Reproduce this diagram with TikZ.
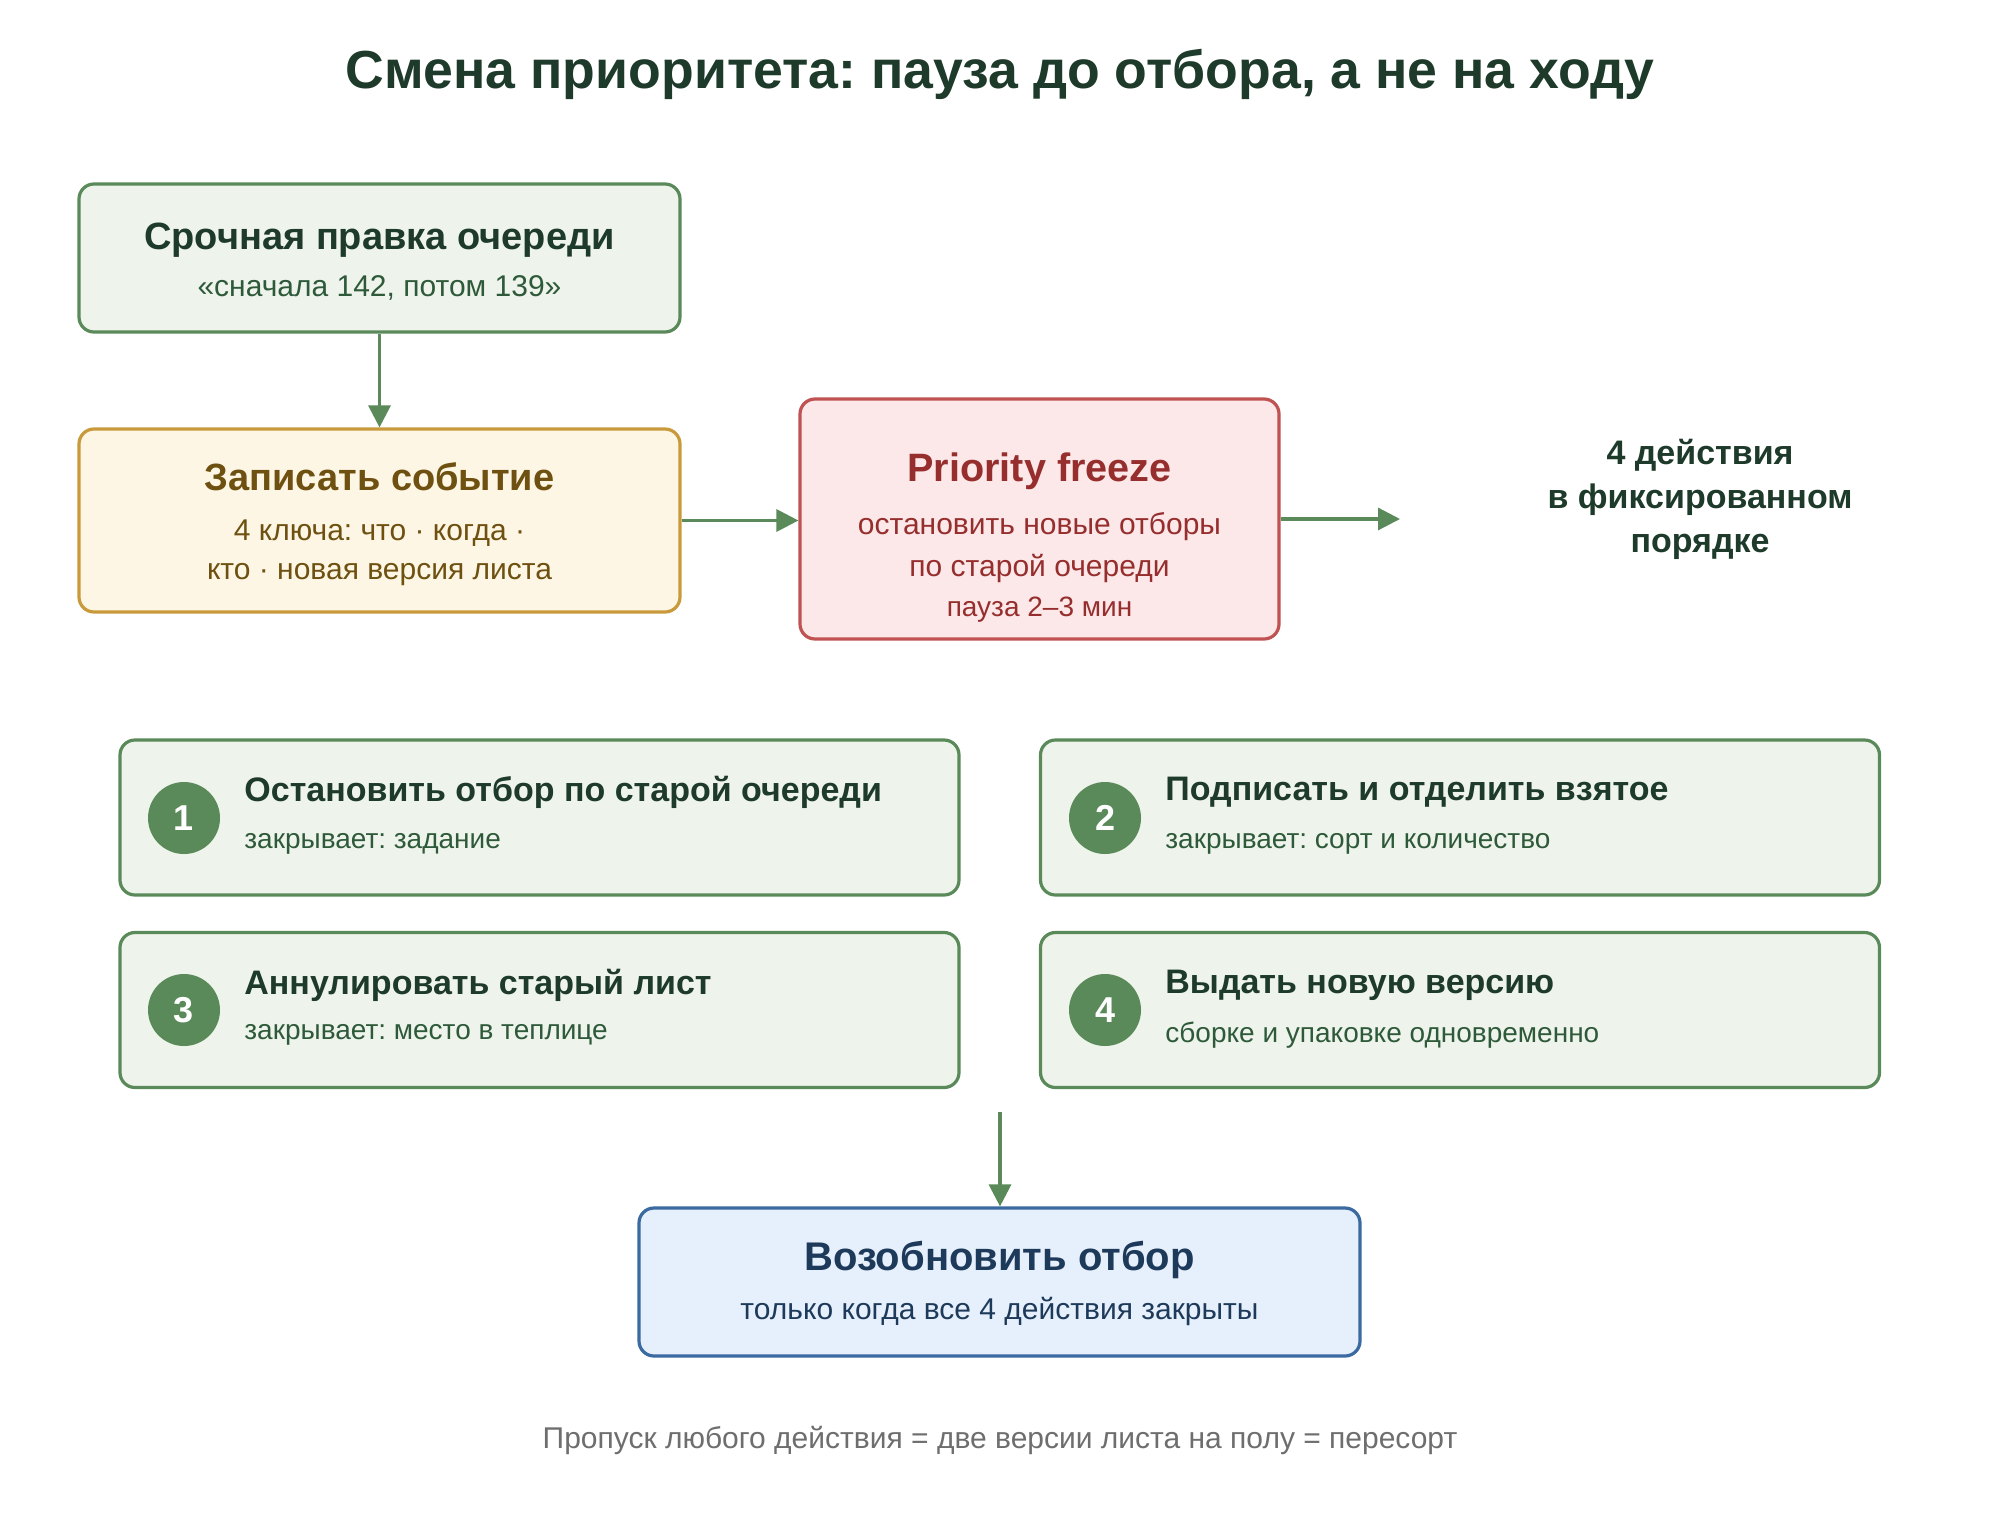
\documentclass[tikz,border=0pt]{standalone}
\usepackage{fontspec}
\setmainfont{Liberation Sans}
\usetikzlibrary{arrows.meta}
\frenchspacing
\definecolor{gstroke}{HTML}{5A8A5A}
\definecolor{gfill}{HTML}{EEF4EC}
\definecolor{gtext}{HTML}{1E3A2A}
\definecolor{gsub}{HTML}{2E5A3A}
\definecolor{yfill}{HTML}{FDF6E4}
\definecolor{ystroke}{HTML}{C99A3C}
\definecolor{ytext}{HTML}{6E5010}
\definecolor{rfill}{HTML}{FCE8E8}
\definecolor{rstroke}{HTML}{C05252}
\definecolor{rtext}{HTML}{962E2E}
\definecolor{bfill}{HTML}{E6F0FC}
\definecolor{bstroke}{HTML}{3A6AA0}
\definecolor{btext}{HTML}{1E3A5A}
\definecolor{foot}{HTML}{6E6E6E}
\tikzset{
  box/.style={rectangle, rounded corners=7.5pt, line width=1.6pt, inner sep=0pt},
  gbox/.style={box, draw=gstroke, fill=gfill},
  arr/.style={draw=gstroke, line width=1.6pt, -{Triangle[length=11pt,width=11pt]}},
  ttl/.style={font=\fontsize{19}{23}\selectfont\bfseries, inner sep=0pt},
  sub/.style={font=\fontsize{15}{18}\selectfont, inner sep=0pt},
  stt/.style={font=\fontsize{17}{20}\selectfont\bfseries, text=gtext, anchor=west, inner sep=0pt},
  sst/.style={font=\fontsize{14}{17}\selectfont, text=gsub, anchor=west, inner sep=0pt},
  num/.style={circle, fill=gstroke, minimum size=36pt, inner sep=0pt, text=white, font=\fontsize{18}{21}\selectfont\bfseries},
}
\begin{document}
\begin{tikzpicture}[x=0.5pt,y=-0.5pt]
\useasboundingbox[fill=white] (0,0) rectangle (2000,1520);
\node[font=\fontsize{26.8}{32}\selectfont\bfseries, text=gtext] (title) at (1000,74) {Смена приоритета: пауза до отбора, а не на ходу};

% box A
\node[gbox, minimum width=300.5pt, minimum height=74pt] (A) at (379.5,258) {};
\node[ttl, text=gtext] (At) at (379.5,240) {Срочная правка очереди};
\node[sub, text=gsub] (As) at (379.5,288) {«сначала 142, потом 139»};

% box B
\node[box, draw=ystroke, fill=yfill, minimum width=300.5pt, minimum height=91.5pt] (B) at (379.5,520.5) {};
\node[ttl, text=ytext] (Bt) at (379.5,477) {Записать событие};
\node[sub, text=ytext] (Bs1) at (379.5,533) {4 ключа: что · когда ·};
\node[sub, text=ytext] (Bs2) at (379.5,575) {кто · новая версия листа};

% box C
\node[box, draw=rstroke, fill=rfill, minimum width=239.5pt, minimum height=120pt] (C) at (1039.5,519) {};
\node[ttl, font=\fontsize{19.8}{23}\selectfont\bfseries, text=rtext] (Ct) at (1039.5,471) {Priority freeze};
\node[sub, text=rtext] (Cs1) at (1039.5,527) {остановить новые отборы};
\node[sub, text=rtext] (Cs2) at (1039.5,568) {по старой очереди};
\node[font=\fontsize{14}{17}\selectfont, text=rtext, inner sep=0pt] (Cs3) at (1039.5,610) {пауза 2–3 мин};

% side text
\node[font=\fontsize{17}{22}\selectfont\bfseries, text=gtext, align=center, inner sep=0pt] (D) at (1700,499) {4 действия\\в фиксированном\\порядке};
\coordinate (Dl) at (1400,519);

% arrows
\draw[arr] (A.south) -- (B.north);
\draw[arr] (B.east) -- (B.east -| C.west);
\draw[arr] (C.east) -- (Dl);

% steps
\node[gbox, minimum width=419.5pt, minimum height=77.5pt] (S1) at (539.5,817.5) {};
\node[num] (N1) at (184,818) {1};
\node[stt] (S1t) at (244,792) {Остановить отбор по старой очереди};
\node[sst] (S1s) at (244,844) {закрывает: задание};

\node[gbox, minimum width=419.5pt, minimum height=77.5pt] (S2) at (1460,817.5) {};
\node[num] (N2) at (1105,818) {2};
\node[stt] (S2t) at (1165,792) {Подписать и отделить взятое};
\node[sst] (S2s) at (1165,844) {закрывает: сорт и количество};

\node[gbox, minimum width=419.5pt, minimum height=77.5pt] (S3) at (539.5,1010) {};
\node[num] (N3) at (184,1010) {3};
\node[stt] (S3t) at (244,985) {Аннулировать старый лист};
\node[sst] (S3s) at (244,1035) {закрывает: место в теплице};

\node[gbox, minimum width=419.5pt, minimum height=77.5pt] (S4) at (1460,1010) {};
\node[num] (N4) at (1105,1010) {4};
\node[stt] (S4t) at (1165,985) {Выдать новую версию};
\node[sst] (S4s) at (1165,1035) {сборке и упаковке одновременно};

% final
\coordinate (Fa) at (1000,1112);
\node[box, draw=bstroke, fill=bfill, minimum width=360.5pt, minimum height=74pt] (F) at (999.5,1282) {};
\node[font=\fontsize{20}{24}\selectfont\bfseries, text=btext, inner sep=0pt] (Ft) at (999.5,1260) {Возобновить отбор};
\node[sub, text=btext] (Fs) at (999.5,1311) {только когда все 4 действия закрыты};
\draw[arr] (Fa) -- (Fa |- F.north);

% footer
\node[font=\fontsize{15}{18}\selectfont, text=foot, inner sep=0pt] (foot) at (1000,1440) {Пропуск любого действия = две версии листа на полу = пересорт};
\end{tikzpicture}
\end{document}
